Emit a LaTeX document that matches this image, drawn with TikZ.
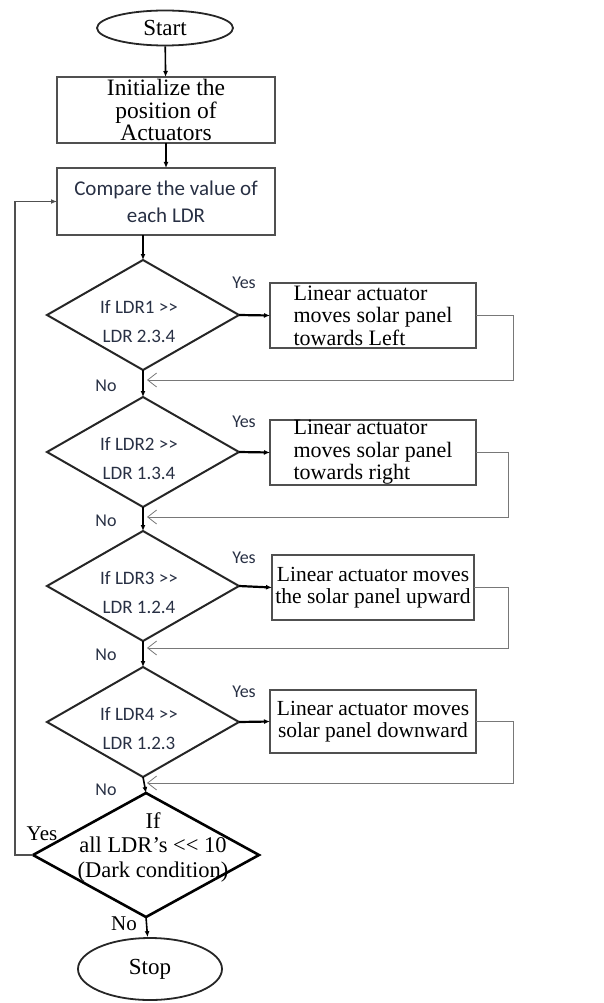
\documentclass[tikz,border=0pt]{standalone}
\usepackage{fontspec}
\setmainfont{Liberation Serif}
\newfontfamily\calfont{Carlito}
\usetikzlibrary{shapes.geometric,arrows.meta}
\definecolor{sanscol}{RGB}{40,48,68}
\definecolor{boxcol}{RGB}{80,80,80}
\definecolor{retcol}{RGB}{120,120,120}
\begin{document}
\begin{tikzpicture}[x=1pt,y=-1pt,
  flow/.style={draw=black, line width=1.6pt, -{Latex[length=6pt,width=5pt]}},
  ret/.style={draw=retcol, line width=0.9pt, -{Straight Barb[length=9pt,width=14pt,line width=0.8pt]}},
  loopline/.style={draw=boxcol, line width=1.3pt, -{Latex[length=6pt,width=5pt]}},
  proc/.style={rectangle, draw=boxcol, line width=1.3pt, inner sep=0pt, outer sep=0pt, font=\fontsize{22}{22.5}\selectfont},
  dia/.style={diamond, draw=black!85, line width=2pt, inner sep=0pt, outer sep=0pt, minimum width=192pt, minimum height=110pt},
  term/.style={ellipse, draw=black!85, line width=1.8pt, inner sep=0pt, font=\fontsize{23}{24}\selectfont},
  dtext/.style={align=center, text=sanscol, font=\calfont\fontsize{19}{29}\selectfont},
  lab/.style={text=sanscol, font=\calfont\fontsize{18}{20}\selectfont, inner sep=0pt}
]
\useasboundingbox (0,0) rectangle (603,1003);

% terminals and processes
\node[term, minimum width=136pt, minimum height=35pt] (start) at (165,28) {Start};
\node[proc, minimum width=218pt, minimum height=66pt, align=center, font=\fontsize{23.5}{22.5}\selectfont] (init) at (166,110) {Initialize the\\position of\\Actuators};
\node[proc, minimum width=218pt, minimum height=67pt, align=center, text=sanscol, font=\calfont\fontsize{21}{27}\selectfont] (cmp) at (166,201.5) {Compare the value of\\each LDR};

% decisions
\node[dia] (d1) at (143,315) {};
\node[dtext] (t1) at (139,322) {If LDR1 >{}>\\LDR 2.3.4};
\node[dia] (d2) at (143,452) {};
\node[dtext] (t2) at (139,459) {If LDR2 >{}>\\LDR 1.3.4};
\node[dia] (d3) at (143,586) {};
\node[dtext] (t3) at (139,593) {If LDR3 >{}>\\LDR 1.2.4};
\node[dia] (d4) at (143,722) {};
\node[dtext] (t4) at (139,729) {If LDR4 >{}>\\LDR 1.2.3};
\node[diamond, draw=black, line width=2.6pt, inner sep=0pt, outer sep=0pt, minimum width=226pt, minimum height=124pt] (d5) at (146,855) {};
\node[align=center, font=\fontsize{22.5}{24.5}\selectfont] (t5) at (153,847) {If\\all LDR's <{}< 10\\(Dark condition)};
\node[term, minimum width=144pt, minimum height=62pt] (stop) at (150,969) {Stop};

% action boxes
\node[proc, minimum width=206pt, minimum height=65pt, align=left] (b1) at (373,315.5) {Linear actuator\\moves solar panel\\towards Left};
\node[proc, minimum width=206pt, minimum height=65pt, align=left] (b2) at (373,452.5) {Linear actuator\\moves solar panel\\towards right};
\node[proc, minimum width=202pt, minimum height=65pt, align=center, font=\fontsize{21.5}{22.5}\selectfont] (b3) at (373,587.5) {Linear actuator moves\\the solar panel upward};
\node[proc, minimum width=206pt, minimum height=63pt, align=center, font=\fontsize{21.5}{22.5}\selectfont] (b4) at (373,721.5) {Linear actuator moves\\solar panel downward};

% main flow
\draw[flow] (start) -- (init);
\draw[flow] (init) -- (cmp);
\draw[flow] (d1.north |- cmp.south) -- (d1.north);
\draw[flow] (d1) -- (d2);
\draw[flow] (d2) -- (d3);
\draw[flow] (d3) -- (d4);
\draw[flow] (d4.south) -- (d5.north);
\draw[flow] (d5.south) -- (stop);

\draw[flow, line width=2.2pt] (d1.east) -- (b1.west);
\draw[flow, line width=2.2pt] (d2.east) -- (b2.west);
\draw[flow, line width=2.2pt] (d3.east) -- (b3.west);
\draw[flow, line width=2.2pt] (d4.east) -- (b4.west);

% return lines
\coordinate (r1) at (513,380); \coordinate (j1) at (147,380);
\coordinate (r2) at (508,517); \coordinate (j2) at (147,517);
\coordinate (r3) at (508,648); \coordinate (j3) at (147,648);
\coordinate (r4) at (513,783); \coordinate (j4) at (147,783);
\draw[ret] (b1.east) -| (r1) -- (j1);
\draw[ret] (b2.east) -| (r2) -- (j2);
\draw[ret] (b3.east) -| (r3) -- (j3);
\draw[ret] (b4.east) -| (r4) -- (j4);

% dark loop
\coordinate (lp) at (15,855);
\draw[loopline] (d5.west) -- (lp) |- (cmp.west);

% labels
\node[lab] (y1) at (244,283) {Yes};
\node[lab] (y2) at (244,422) {Yes};
\node[lab] (y3) at (244,558) {Yes};
\node[lab] (y4) at (244,692) {Yes};
\node[lab] (n1) at (106,386) {No};
\node[lab] (n2) at (106,521) {No};
\node[lab] (n3) at (106,655) {No};
\node[lab] (n4) at (106,790) {No};
\node[inner sep=0pt, font=\fontsize{21}{22}\selectfont] (y5) at (42,834) {Yes};
\node[inner sep=0pt, font=\fontsize{21}{22}\selectfont] (n5) at (124,924) {No};
\end{tikzpicture}
\end{document}
